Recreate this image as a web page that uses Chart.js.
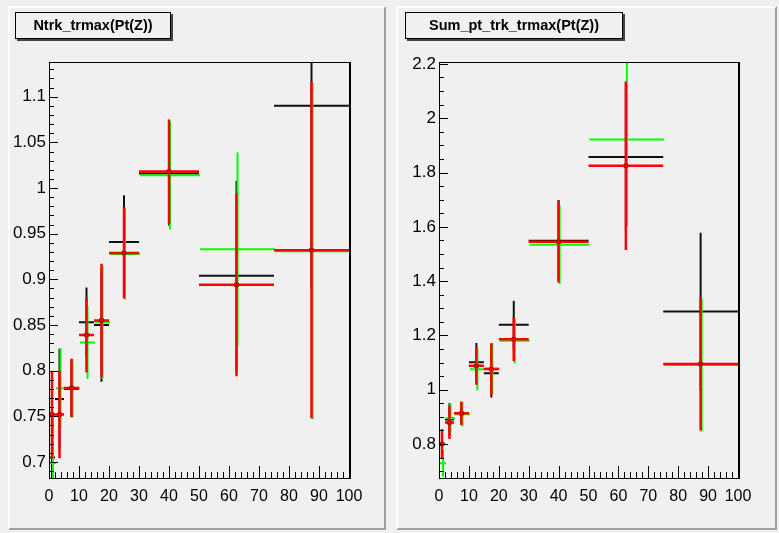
<!DOCTYPE html>
<html>
<head>
<meta charset="utf-8">
<script src="https://cdn.jsdelivr.net/npm/chart.js@4.4.1/dist/chart.umd.min.js"></script>
<style>
  body { margin: 0; background: #f0f0f0; width: 779px; height: 533px; position: relative; overflow: hidden;
         font-family: "Liberation Sans", Arial, sans-serif; }
  .pad { position: absolute; top: 6px; height: 524px; box-sizing: border-box; border: 2px solid;
         border-color: #fcfcfc #a0a0a0 #a0a0a0 #fcfcfc; background: #f0f0f0; }
  .title { position: absolute; top: 12px; height: 27px; box-sizing: border-box; border: 1px solid #000;
           box-shadow: 2px 2px 0 #444; background: #f0f0f0; font-weight: bold; font-size: 14.5px;
           text-align: center; line-height: 25px; }
  canvas { position: absolute; top: 0; }
</style>
</head>
<body>
<div class="pad" style="left:8px;width:378px"></div>
<div class="pad" style="left:396px;width:381px"></div>
<canvas id="c1" width="390" height="533" style="left:0"></canvas>
<canvas id="c2" width="389" height="533" style="left:390px"></canvas>
<div class="title" style="left:15px;width:156px">Ntrk_trmax(Pt(Z))</div>
<div class="title" style="left:405px;width:218px">Sum_pt_trk_trmax(Pt(Z))</div>
<script>
// bins in Pt(Z)
const binEdges = [0, 2, 5, 10, 15, 20, 30, 50, 75, 100];
const xTicks = [0, 10, 20, 30, 40, 50, 60, 70, 80, 90, 100];

// Ntrk_trmax
const ntrkBlack = [0.705, 0.769, 0.780, 0.853, 0.850, 0.941, 1.016, 0.904, 1.090];
const ntrkBlackErr = [0.060, 0.055, 0.030, 0.038, 0.062, 0.051, 0.057, 0.104, 0.200];
const ntrkRed = [0.752, 0.752, 0.781, 0.839, 0.855, 0.929, 1.018, 0.894, 0.932];
const ntrkRedErr = [0.048, 0.048, 0.032, 0.041, 0.062, 0.050, 0.057, 0.100, 0.184];
const ntrkGreen = [0.700, 0.782, 0.782, 0.832, 0.854, 0.929, 1.015, 0.934, 0.932];
const ntrkGreenErr = [0.055, 0.044, 0.032, 0.040, 0.062, 0.050, 0.059, 0.106, 0.184];
const ntrkTicks = [0.7, 0.75, 0.8, 0.85, 0.9, 0.95, 1, 1.05, 1.1];
const ntrkTickLabels = ["0.7", "0.75", "0.8", "0.85", "0.9", "0.95", "1", "1.05", "1.1"];

// Sum_pt_trk_trmax
const sumptBlack = [0.800, 0.890, 0.913, 1.101, 1.061, 1.239, 1.549, 1.857, 1.288];
const sumptBlackErr = [0.050, 0.060, 0.043, 0.071, 0.090, 0.089, 0.150, 0.270, 0.290];
const sumptRed = [0.800, 0.879, 0.913, 1.088, 1.076, 1.186, 1.545, 1.825, 1.095];
const sumptRedErr = [0.055, 0.060, 0.043, 0.070, 0.095, 0.080, 0.150, 0.310, 0.245];
const sumptGreen = [0.733, 0.900, 0.913, 1.079, 1.081, 1.184, 1.538, 1.925, 1.095];
const sumptGreenErr = [0.050, 0.052, 0.045, 0.077, 0.095, 0.083, 0.145, 0.320, 0.245];
const sumptTicks = [0.8, 1, 1.2, 1.4, 1.6, 1.8, 2, 2.2];
const sumptTickLabels = ["0.8", "1", "1.2", "1.4", "1.6", "1.8", "2", "2.2"];

// horizontal bar over the bin + vertical error bar at the bin centre, broken by nulls
function errorSegments(vals, errs) {
  const pts = [];
  vals.forEach((v, i) => {
    const lo = binEdges[i], hi = binEdges[i + 1], c = (lo + hi) / 2;
    pts.push({ x: lo, y: v }, { x: hi, y: v }, { x: hi, y: null });
    pts.push({ x: c, y: v - errs[i] }, { x: c, y: v + errs[i] }, { x: c, y: null });
  });
  return pts;
}

function centres(vals) {
  return vals.map((v, i) => ({ x: (binEdges[i] + binEdges[i + 1]) / 2, y: v }));
}

// green is drawn a pixel off the red, like ROOT does
const nudge = {
  id: "nudge",
  beforeDatasetDraw(chart, args) {
    if (chart.data.datasets[args.index].nudge) {
      chart.ctx.save();
      chart.ctx.translate(1, 1);
    }
  },
  afterDatasetDraw(chart, args) {
    if (chart.data.datasets[args.index].nudge) chart.ctx.restore();
  }
};

// ROOT style: frame plus ticks drawn inside the frame
const rootFrame = {
  id: "rootFrame",
  afterDraw(chart) {
    const { ctx, chartArea: a, scales } = chart;
    const o = chart.options.plugins.rootFrame;
    ctx.save();
    ctx.strokeStyle = "#000";
    ctx.lineWidth = 1;
    ctx.beginPath();
    for (let v = 0; v <= 100; v += 2) {
      const px = Math.round(scales.x.getPixelForValue(v)) + 0.5;
      const len = v % 10 === 0 ? 12 : 6;
      ctx.moveTo(px, a.bottom);
      ctx.lineTo(px, a.bottom - len);
    }
    const y = scales.y;
    const n0 = Math.ceil(y.min / o.minor - 1e-6), n1 = Math.floor(y.max / o.minor + 1e-6);
    for (let n = n0; n <= n1; n++) {
      const v = n * o.minor;
      const major = Math.abs(v / o.major - Math.round(v / o.major)) < 1e-6;
      const py = Math.round(y.getPixelForValue(v)) + 0.5;
      ctx.moveTo(a.left, py);
      ctx.lineTo(a.left + (major ? 9 : 5), py);
    }
    ctx.stroke();
    ctx.strokeRect(Math.round(a.left) + 0.5, Math.round(a.top) + 0.5,
                   Math.round(a.right - a.left), Math.round(a.bottom - a.top));
    ctx.lineWidth = 2;
    ctx.beginPath();
    ctx.moveTo(Math.round(a.right) + 1, a.top);
    ctx.lineTo(Math.round(a.right) + 1, a.bottom + 1);
    ctx.stroke();
    ctx.restore();
  }
};

function makeChart(id, black, blackErr, red, redErr, green, greenErr, yMin, yMax, yTicks, yLabels, major, minor) {
  const line = (data, color, width, order) => ({
    data, borderColor: color, borderWidth: width, showLine: true, spanGaps: false,
    pointRadius: 0, borderCapStyle: "butt", clip: 0, order
  });
  return new Chart(document.getElementById(id), {
    type: "scatter",
    data: {
      datasets: [
        { data: centres(red), pointStyle: "rect", pointRadius: 2.5, backgroundColor: "#ff0000",
          borderColor: "#b00000", borderWidth: 1, clip: 0, order: 0 },
        line(errorSegments(red, redErr), "#ff0000", 2.5, 1),
        Object.assign(line(errorSegments(green, greenErr), "#00ff00", 2, 2), { nudge: true }),
        line(errorSegments(black, blackErr), "#111111", 2, 3)
      ]
    },
    options: {
      responsive: false,
      animation: false,
      layout: { padding: { left: 0, top: 62, right: 41, bottom: 0 } },
      plugins: { legend: { display: false }, tooltip: { enabled: false },
                 rootFrame: { major, minor } },
      scales: {
        x: {
          type: "linear", min: 0, max: 100,
          grid: { display: false, drawTicks: false }, border: { display: false },
          afterBuildTicks: s => { s.ticks = xTicks.map(v => ({ value: v })); },
          afterFit: s => { s.height = 55; },
          ticks: { autoSkip: false, maxRotation: 0, padding: 9, color: "#000",
                   font: { family: "Liberation Sans", size: 16 } }
        },
        y: {
          type: "linear", min: yMin, max: yMax,
          grid: { display: false, drawTicks: false }, border: { display: false },
          afterBuildTicks: s => { s.ticks = yTicks.map(v => ({ value: v })); },
          afterFit: s => { s.width = 49; },
          ticks: { autoSkip: false, padding: 3, color: "#000",
                   font: { family: "Liberation Sans", size: 17 },
                   callback: (v, i) => yLabels[i] }
        }
      }
    },
    plugins: [nudge, rootFrame]
  });
}

makeChart("c1", ntrkBlack, ntrkBlackErr, ntrkRed, ntrkRedErr, ntrkGreen, ntrkGreenErr,
          0.6825, 1.138, ntrkTicks, ntrkTickLabels, 0.05, 0.01);
makeChart("c2", sumptBlack, sumptBlackErr, sumptRed, sumptRedErr, sumptGreen, sumptGreenErr,
          0.675, 2.207, sumptTicks, sumptTickLabels, 0.2, 0.05);
</script>
</body>
</html>
